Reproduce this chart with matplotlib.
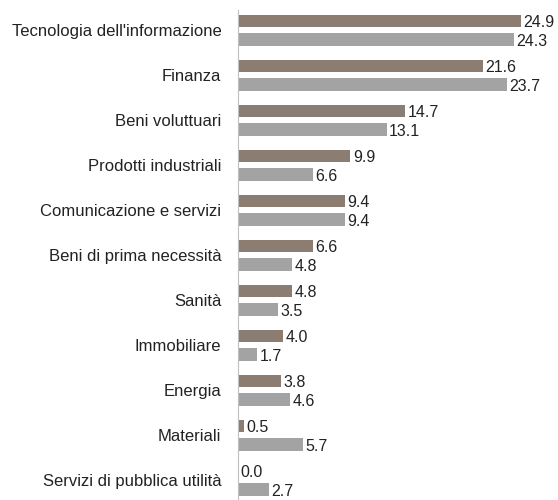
import matplotlib.pyplot as plt
import numpy as np

categories = ["Tecnologia dell'informazione", "Finanza", "Beni voluttuari",
              "Prodotti industriali", "Comunicazione e servizi",
              "Beni di prima necessità", "Sanità", "Immobiliare", "Energia",
              "Materiali", "Servizi di pubblica utilità"]
serie_a = [24.9, 21.6, 14.7, 9.9, 9.4, 6.6, 4.8, 4.0, 3.8, 0.5, 0.0]
serie_b = [24.3, 23.7, 13.1, 6.6, 9.4, 4.8, 3.5, 1.7, 4.6, 5.7, 2.7]

plt.rcParams['font.family'] = ['Liberation Sans', 'DejaVu Sans']

color_a = '#8c7d72'
color_b = '#a3a3a3'

fig = plt.figure(figsize=(5.58, 5.0), dpi=100)
ax = fig.add_axes([238 / 558, 0, 1 - 238 / 558, 0.98])

y = np.arange(len(categories))
off = 0.205
h = 0.28
bars_a = ax.barh(y - off, serie_a, height=h, color=color_a)
bars_b = ax.barh(y + off, serie_b, height=h, color=color_b)

for bars, vals in ((bars_a, serie_a), (bars_b, serie_b)):
    for b, v in zip(bars, vals):
        ax.text(v + 0.22, b.get_y() + b.get_height() / 2 + 0.04, f"{v:.1f}",
                va='center', ha='left', fontsize=11.5, color='#222222')

ax.set_xlim(0, 28.2)
ax.set_ylim(10.44, -0.45)
ax.set_yticks(y)
ax.set_yticklabels(categories, fontsize=12, color='#222222')
ax.tick_params(axis='y', length=0, pad=12)
ax.set_xticks([])
for s in ['top', 'right', 'bottom']:
    ax.spines[s].set_visible(False)
ax.spines['left'].set_color('#c0c0c0')
ax.spines['left'].set_linewidth(0.8)

fig.savefig('out.png', dpi=100)
